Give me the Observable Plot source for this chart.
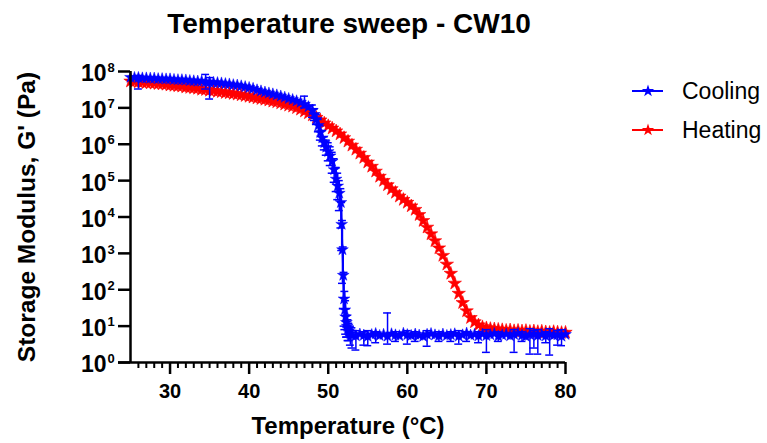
<!DOCTYPE html>
<html><head><meta charset="utf-8">
<script src="https://cdn.jsdelivr.net/npm/d3@7"></script>
<script src="https://cdn.jsdelivr.net/npm/@observablehq/plot@0.6"></script>
<style>
body{margin:0;background:#fff;font-family:"Liberation Sans",Arial,sans-serif;}
#wrap{position:relative;width:767px;height:443px;overflow:hidden;background:#fff;}
#title{position:absolute;left:0;top:10px;width:698px;text-align:center;font-size:28px;line-height:27px;font-weight:bold;color:#000;}
#chart{position:absolute;left:0;top:46px;}
.leg{position:absolute;left:630px;height:22px;}
.leg svg{position:absolute;left:0;top:0;}
.leg span{position:absolute;left:52px;top:0;font-size:23px;line-height:22px;white-space:nowrap;color:#000;}
</style></head>
<body>
<div id="wrap">
  <div id="title"></div>
  <div id="chart"></div>
</div>
<script>
const chartTitle = "Temperature sweep - CW10";
const xTitle = "Temperature (°C)";
const yTitle = "Storage Modulus, G' (Pa)";
const seriesNames = ["Cooling", "Heating"];
const seriesColors = ["#0000ff", "#ff0000"];

// Heating (red)
const heatT = [25.0,25.5,26.0,26.5,27.0,27.5,28.0,28.5,29.0,29.5,30.0,30.5,31.0,31.5,32.0,32.5,33.0,33.5,34.0,34.5,
35.0,35.5,36.0,36.5,37.0,37.5,38.0,38.5,39.0,39.5,40.0,40.5,41.0,41.5,42.0,42.5,43.0,43.5,44.0,44.5,
45.0,45.5,46.0,46.5,47.0,47.5,48.0,48.5,49.0,49.5,50.0,50.5,51.0,51.5,52.0,52.5,53.0,53.5,54.0,54.5,
55.0,55.5,56.0,56.5,57.0,57.5,58.0,58.5,59.0,59.5,60.0,60.5,61.0,61.5,62.0,62.5,63.0,63.5,64.0,64.5,
65.0,65.5,66.0,66.5,67.0,67.5,68.0,68.5,69.0,69.5,70.0,70.5,71.0,71.5,72.0,72.5,73.0,73.5,74.0,74.5,
75.0,75.5,76.0,76.5,77.0,77.5,78.0,78.5,79.0,79.5,80.0];
const heatG = [5.4e7,5.2e7,5.1e7,5.0e7,4.9e7,4.8e7,4.7e7,4.6e7,4.5e7,4.4e7,4.2e7,4.1e7,4.0e7,3.9e7,3.7e7,3.6e7,3.5e7,3.4e7,3.2e7,3.15e7,
3.0e7,2.95e7,2.8e7,2.75e7,2.6e7,2.55e7,2.45e7,2.35e7,2.25e7,2.15e7,2.05e7,1.95e7,1.85e7,1.78e7,1.7e7,1.62e7,1.51e7,1.45e7,1.35e7,1.26e7,
1.17e7,1.1e7,1.0e7,9.1e6,8.1e6,7.2e6,6.3e6,5.4e6,4.6e6,3.8e6,3.2e6,2.75e6,2.3e6,1.9e6,1.5e6,1.2e6,9.3e5,7.2e5,5.6e5,4.3e5,
3.2e5,2.45e5,1.8e5,1.3e5,1.0e5,7.6e4,5.9e4,4.7e4,3.7e4,3.0e4,2.5e4,2.0e4,1.6e4,1.15e4,7.9e3,5.2e3,3.4e3,2.2e3,1.4e3,870,
500,280,150,79,44,26,17,13,10.7,9.5,8.9,8.5,8.3,8.1,7.9,7.6,7.8,7.4,7.6,7.3,
7.5,7.1,7.3,7.0,7.2,6.9,6.7,7.0,6.8,6.6,6.7];

// Cooling (blue)
const coolT = [25.0,25.5,26.0,26.5,27.0,27.5,28.0,28.5,29.0,29.5,30.0,30.5,31.0,31.5,32.0,32.5,33.0,33.5,34.0,34.5,
35.0,35.5,36.0,36.5,37.0,37.5,38.0,38.5,39.0,39.5,40.0,40.5,41.0,41.5,42.0,42.5,43.0,43.5,44.0,44.5,
45.0,45.5,46.0,46.5,47.0,47.5,48.0,48.25,48.5,48.75,49.0,49.25,49.5,49.75,50.0,50.25,50.5,50.75,
51.0,51.2,51.4,51.6,51.7,51.8,51.9,52.0,52.1,52.2,52.3,52.4,52.5,52.6,52.8,53.0,
53.5,54.0,54.5,55.0,55.5,56.0,56.5,57.0,57.5,58.0,58.5,59.0,59.5,60.0,60.5,61.0,61.5,62.0,62.5,63.0,
63.5,64.0,64.5,65.0,65.5,66.0,66.5,67.0,67.5,68.0,68.5,69.0,69.5,70.0,70.5,71.0,71.5,72.0,72.5,73.0,
73.5,74.0,74.5,75.0,75.5,76.0,76.5,77.0,77.5,78.0,78.5,79.0,79.5,80.0];
const coolG = [6.9e7,6.8e7,6.8e7,6.6e7,6.6e7,6.5e7,6.5e7,6.3e7,6.3e7,6.2e7,6.2e7,6.0e7,5.9e7,5.9e7,5.8e7,5.6e7,5.5e7,5.4e7,5.4e7,5.2e7,
5.1e7,5.0e7,4.9e7,4.8e7,4.6e7,4.5e7,4.3e7,4.2e7,4.0e7,3.8e7,3.6e7,3.4e7,3.1e7,2.9e7,2.7e7,2.55e7,2.4e7,2.25e7,2.1e7,1.95e7,
1.8e7,1.68e7,1.55e7,1.42e7,1.26e7,1.07e7,8.5e6,6.6e6,4.8e6,3.3e6,2.1e6,1.5e6,1.1e6,8.3e5,6.3e5,4.8e5,3.4e5,2.0e5,
1.1e5,7.1e4,4.5e4,2.5e4,6.3e3,1.26e3,250,56,28,18,12.6,10,8.5,7.4,6.3,5.6,
5.4,6.0,5.6,5.2,5.8,6.2,5.5,5.9,5.3,6.1,5.7,5.4,6.3,5.8,5.5,6.0,5.6,5.2,5.9,6.2,
5.7,5.4,6.0,5.5,5.8,6.1,5.3,5.7,6.4,5.6,5.9,5.4,6.0,5.5,5.8,6.2,5.3,5.7,6.0,5.4,
5.9,6.3,5.6,5.2,5.8,6.1,5.5,5.9,5.4,6.0,5.6,5.8,5.3,5.9];

// Cooling error bars (SD)
const coolErrT  = [26.0,34.5,35.0,47.0,48.0,48.25,48.5,48.75,49.0,49.25,49.5,49.75,50.0,50.25,50.5,50.75,51.0,51.2,51.4,51.6,51.7,51.8,51.9,52.0,52.1,52.2,52.3,52.4,52.5,52.6,52.8,53.0,
53.5,54.5,55.0,56.0,57.5,58.5,60.0,61.0,62.5,64.0,65.5,66.5,67.5,69.0,70.0,71.5,73.5,74.5,75.5,76.0,76.5,77.5,78.0,79.0,79.5];
const coolErrLo = [3.3e7,3.3e7,1.75e7,1.0e7,5.5e6,4.5e6,3.5e6,2.2e6,1.3e6,9e5,7e5,5e5,3.5e5,2.6e5,1.6e5,9e4,5e4,3e4,1.5e4,5e3,1.2e3,150,30,10,8,6,5,5,4,4,3,2.5,
2.2,3.0,2.9,3.5,3.2,3.8,3.2,3.8,2.8,3.8,3.8,3.2,3.8,3.5,1.9,3.8,1.9,3.8,1.7,2.5,1.7,3.5,1.6,3.0,2.9];
const coolErrHi = [7.8e7,8.3e7,6.8e7,2.1e7,1.2e7,9.5e6,6.5e6,4.8e6,3.2e6,2.4e6,1.6e6,1.3e6,1.1e6,8.5e5,6e5,4e5,2.3e5,1.6e5,1e5,6e4,2.5e4,8e3,1.5e3,300,90,50,30,20,15,12,10,9,
7.5,7,7.5,7,23,7,7.5,7,7.5,7,7,7.5,7,7,8,7,8,7,8.5,7.5,8,7,8.5,7.5,8];

const xMajor = [30,40,50,60,70,80];
const xMinor = [26,27,28,29,31,32,33,34,35,36,37,38,39,41,42,43,44,45,46,47,48,49,51,52,53,54,55,56,57,58,59,
61,62,63,64,65,66,67,68,69,71,72,73,74,75,76,77,78,79];
const yTicks = [1,10,100,1e3,1e4,1e5,1e6,1e7,1e8];
const yExp = [0,1,2,3,4,5,6,7,8];
const yBase = "10";

const heat = heatT.map((t,i) => ({t, g: heatG[i]}));
const cool = coolT.map((t,i) => ({t, g: coolG[i]}));
const err = coolErrT.map((t,i) => ({t, lo: coolErrLo[i], hi: coolErrHi[i]}));
const yRows = yTicks.map((v,i) => ({v, e: String(yExp[i])}));

const blue = seriesColors[0], red = seriesColors[1];
const capHalf = 0.5;

const svg = Plot.plot({
  width: 767, height: 397,
  marginLeft: 130, marginRight: 202, marginTop: 25, marginBottom: 81,
  style: {fontFamily: "'Liberation Sans', Arial, sans-serif", color: "#000", background: "#fff", overflow: "visible"},
  x: {domain: [25, 80], label: null},
  y: {type: "log", domain: [1, 1e8], label: null},
  marks: [
    Plot.line(heat, {x: "t", y: "g", stroke: red, strokeWidth: 2}),
    Plot.dot(heat, {x: "t", y: "g", symbol: "star", fill: red, stroke: red, strokeWidth: 1, strokeOpacity: 0.6, r: 4.2}),
    Plot.ruleX(err, {x: "t", y1: "lo", y2: "hi", stroke: blue, strokeWidth: 1.5}),
    Plot.ruleY(err, {y: "lo", x1: d => d.t - capHalf, x2: d => d.t + capHalf, stroke: blue, strokeWidth: 1.5}),
    Plot.ruleY(err, {y: "hi", x1: d => d.t - capHalf, x2: d => d.t + capHalf, stroke: blue, strokeWidth: 1.5}),
    Plot.line(cool, {x: "t", y: "g", stroke: blue, strokeWidth: 1.8}),
    Plot.dot(cool, {x: "t", y: "g", symbol: "star", fill: blue, stroke: blue, strokeWidth: 0.8, strokeOpacity: 0.6, r: 3.7}),
    // axes
    Plot.axisX(xMinor, {tickSize: 6, strokeWidth: 2, tickFormat: () => "", label: null}),
    Plot.axisX(xMajor, {tickSize: 12, tickPadding: 9, strokeWidth: 2.5, fontSize: 20, fontWeight: "bold", label: null}),
    Plot.axisY(yTicks, {tickSize: 12, strokeWidth: 2.5, tickFormat: () => "", label: null}),
    Plot.ruleX([25], {stroke: "#000", strokeWidth: 2.5}),
    Plot.ruleY([1], {stroke: "#000", strokeWidth: 2.5, insetLeft: -12}),
    Plot.text(yRows, {y: "v", text: () => yBase, frameAnchor: "left", textAnchor: "end", dx: -24, dy: 2.5, fontSize: 23, fontWeight: "bold", fill: "#000"}),
    Plot.text(yRows, {y: "v", text: "e", frameAnchor: "left", textAnchor: "start", dx: -23, dy: -4, fontSize: 13, fontWeight: "bold", fill: "#000"}),
    Plot.text([xTitle], {text: d => d, frameAnchor: "bottom", textAnchor: "middle", lineAnchor: "middle", dy: 64, fontSize: 24, fontWeight: "bold", fill: "#000"}),
    Plot.text([yTitle], {text: d => d, frameAnchor: "left", textAnchor: "middle", lineAnchor: "middle", rotate: -90, dx: -103, fontSize: 24.5, fontWeight: "bold", fill: "#000"})
  ]
});
document.getElementById("chart").appendChild(svg);
document.getElementById("title").textContent = chartTitle;

// legend
const wrap = document.getElementById("wrap");
const starPath = d3.symbol(d3.symbolStar, 48)();
seriesNames.forEach((name, i) => {
  const div = document.createElement("div");
  div.className = "leg";
  div.style.top = (80 + i * 38.6) + "px";
  div.innerHTML = `<svg width="40" height="22"><line x1="2" x2="33" y1="11" y2="11" stroke="${seriesColors[i]}" stroke-width="2"/><path d="${starPath}" transform="translate(18,11)" fill="${seriesColors[i]}"/></svg><span>${name}</span>`;
  wrap.appendChild(div);
});
</script>
</body></html>
